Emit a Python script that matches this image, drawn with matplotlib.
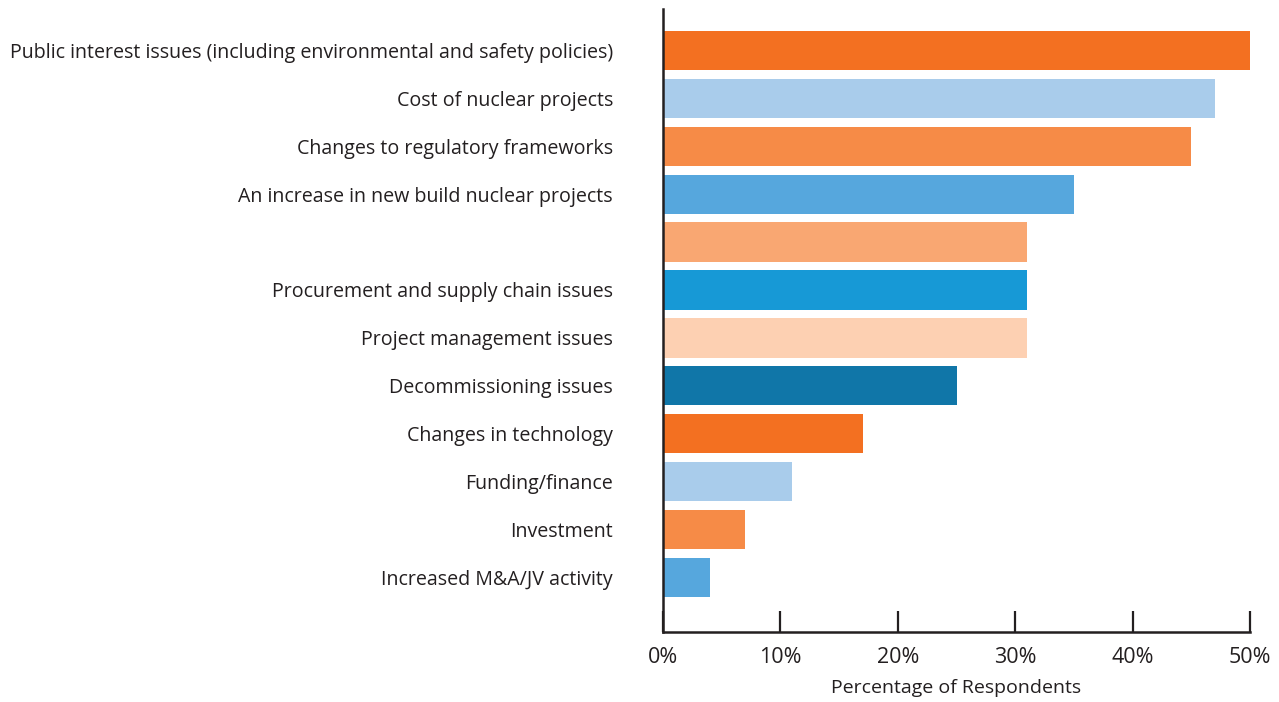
import matplotlib
matplotlib.use("Agg")
import matplotlib.pyplot as plt

categories = [
    "Public interest issues (including environmental and safety policies)",
    "Cost of nuclear projects",
    "Changes to regulatory frameworks",
    "An increase in new build nuclear projects",
    "",
    "Procurement and supply chain issues",
    "Project management issues",
    "Decommissioning issues",
    "Changes in technology",
    "Funding/finance",
    "Investment",
    "Increased M&A/JV activity",
]
values = [50, 47, 45, 35, 31, 31, 31, 25, 17, 11, 7, 4]
colors = ["#F37021", "#A9CCEB", "#F68B47", "#56A7DD", "#F9A772", "#1799D6",
          "#FDD0B2", "#1076A8", "#F37021", "#A9CCEB", "#F68B47", "#56A7DD"]
xticks = [0, 10, 20, 30, 40, 50]
xticklabels = ["0%", "10%", "20%", "30%", "40%", "50%"]

plt.rcParams['font.family'] = ['Open Sans', 'DejaVu Sans']

fig = plt.figure(figsize=(12.79, 7.02), dpi=100)
ax = fig.add_axes([0.5184, 0.0997, 0.9773 - 0.5184, 0.9872 - 0.0997])

ypos = list(range(len(categories)))
ax.barh(ypos, values, height=0.82, color=colors)
ax.set_ylim(12.14, -0.866)
ax.set_xlim(0, 50)
ax.set_yticks(ypos)
ax.set_yticklabels(categories, fontsize=14.1, color="#231F20")
ax.tick_params(axis='y', length=0, pad=36)
ax.set_xticks(xticks)
ax.set_xticklabels(xticklabels, fontsize=15.5, color="#231F20")
ax.tick_params(axis='x', direction='in', length=15, width=1.6, color="#231F20", pad=11)
ax.set_xlabel("Percentage of Respondents", fontsize=14, color="#231F20", labelpad=8)
for s in ['top', 'right']:
    ax.spines[s].set_visible(False)
for s in ['left', 'bottom']:
    ax.spines[s].set_linewidth(1.8)
    ax.spines[s].set_color("#231F20")

fig.savefig("out.png", dpi=100)
